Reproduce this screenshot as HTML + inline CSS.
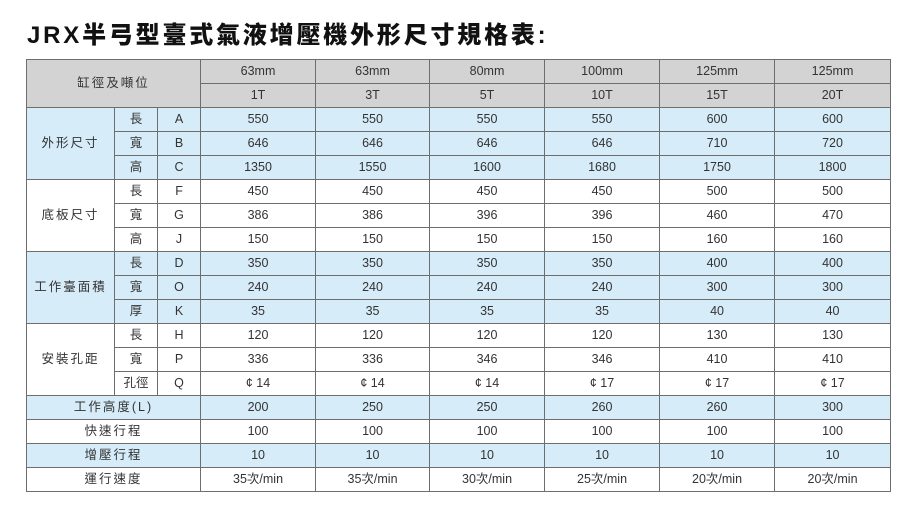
<!DOCTYPE html>
<html><head><meta charset="utf-8"><style>
body{margin:0;width:919px;height:512px;background:#fff;position:relative;overflow:hidden;font-family:"Liberation Sans","Noto Sans CJK TC",sans-serif;}
h1{position:absolute;left:27px;top:21px;margin:0;font-size:24px;font-weight:900;letter-spacing:2.8px;color:#111;line-height:30px;}
table{position:absolute;left:26px;top:59px;border-collapse:collapse;table-layout:fixed;width:864px;}
td{border:1px solid #6e6e6e;height:23px;padding:0;text-align:center;font-size:12.5px;color:#333;line-height:23px;}
.g td{background:#d3d3d3;}
.b td{background:#d7ecf9;}
td.cj{letter-spacing:2px;}
</style></head><body>
<h1>JRX半弓型臺式氣液增壓機外形尺寸規格表:</h1>
<table>
<colgroup><col style="width:88px"><col style="width:43px"><col style="width:43px"><col style="width:115px"><col style="width:114px"><col style="width:115px"><col style="width:115px"><col style="width:115px"><col style="width:116px"></colgroup>
<tr class="g"><td colspan="3" rowspan="2" class="cj">缸徑及噸位</td><td>63mm</td><td>63mm</td><td>80mm</td><td>100mm</td><td>125mm</td><td>125mm</td></tr>
<tr class="g"><td>1T</td><td>3T</td><td>5T</td><td>10T</td><td>15T</td><td>20T</td></tr>
<tr class="b"><td rowspan="3" class="cj">外形尺寸</td><td>長</td><td>A</td><td>550</td><td>550</td><td>550</td><td>550</td><td>600</td><td>600</td></tr>
<tr class="b"><td>寬</td><td>B</td><td>646</td><td>646</td><td>646</td><td>646</td><td>710</td><td>720</td></tr>
<tr class="b"><td>高</td><td>C</td><td>1350</td><td>1550</td><td>1600</td><td>1680</td><td>1750</td><td>1800</td></tr>
<tr><td rowspan="3" class="cj">底板尺寸</td><td>長</td><td>F</td><td>450</td><td>450</td><td>450</td><td>450</td><td>500</td><td>500</td></tr>
<tr><td>寬</td><td>G</td><td>386</td><td>386</td><td>396</td><td>396</td><td>460</td><td>470</td></tr>
<tr><td>高</td><td>J</td><td>150</td><td>150</td><td>150</td><td>150</td><td>160</td><td>160</td></tr>
<tr class="b"><td rowspan="3" class="cj">工作臺面積</td><td>長</td><td>D</td><td>350</td><td>350</td><td>350</td><td>350</td><td>400</td><td>400</td></tr>
<tr class="b"><td>寬</td><td>O</td><td>240</td><td>240</td><td>240</td><td>240</td><td>300</td><td>300</td></tr>
<tr class="b"><td>厚</td><td>K</td><td>35</td><td>35</td><td>35</td><td>35</td><td>40</td><td>40</td></tr>
<tr><td rowspan="3" class="cj">安裝孔距</td><td>長</td><td>H</td><td>120</td><td>120</td><td>120</td><td>120</td><td>130</td><td>130</td></tr>
<tr><td>寬</td><td>P</td><td>336</td><td>336</td><td>346</td><td>346</td><td>410</td><td>410</td></tr>
<tr><td>孔徑</td><td>Q</td><td>¢ 14</td><td>¢ 14</td><td>¢ 14</td><td>¢ 17</td><td>¢ 17</td><td>¢ 17</td></tr>
<tr class="b"><td colspan="3" class="cj">工作高度(L)</td><td>200</td><td>250</td><td>250</td><td>260</td><td>260</td><td>300</td></tr>
<tr><td colspan="3" class="cj">快速行程</td><td>100</td><td>100</td><td>100</td><td>100</td><td>100</td><td>100</td></tr>
<tr class="b"><td colspan="3" class="cj">增壓行程</td><td>10</td><td>10</td><td>10</td><td>10</td><td>10</td><td>10</td></tr>
<tr><td colspan="3" class="cj">運行速度</td><td>35次/min</td><td>35次/min</td><td>30次/min</td><td>25次/min</td><td>20次/min</td><td>20次/min</td></tr>
</table>
</body></html>
